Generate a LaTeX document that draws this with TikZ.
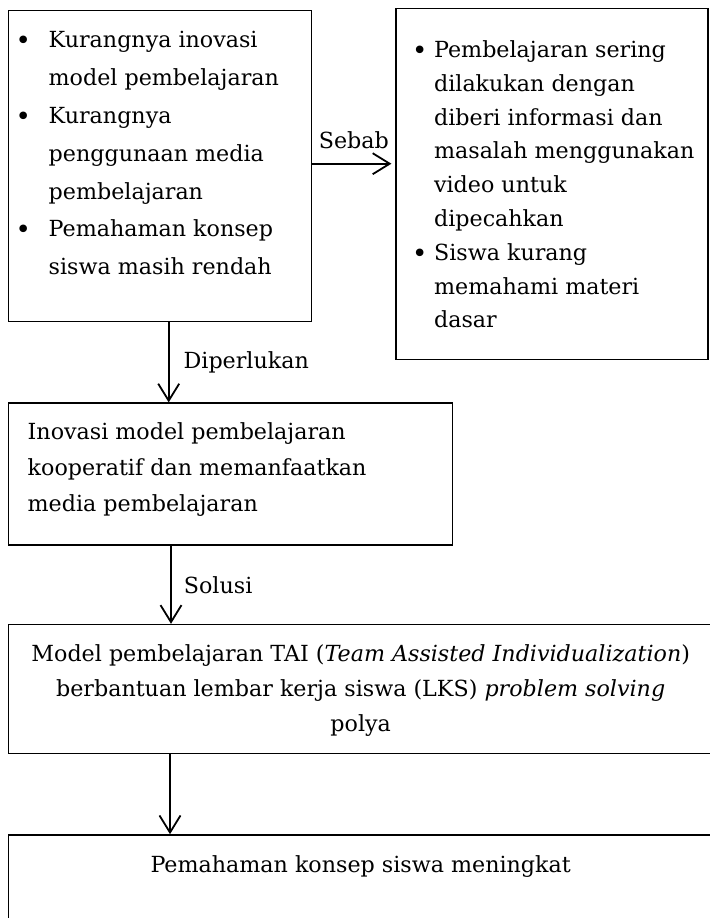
\documentclass[tikz,border=0pt]{standalone}
\usepackage{fontspec}
\setmainfont{DejaVu Serif}
\usetikzlibrary{positioning, arrows.meta}

% fixed-size box text: width, height, top gap, content
\newcommand{\boxtext}[4]{\parbox[c][#2][t]{#1}{\vspace*{#3}#4}}
\newcommand{\bul}{\raisebox{-1pt}{\fontsize{13}{13}\selectfont\textbullet}}

\begin{document}
\begin{tikzpicture}[
    box/.style={draw, line width=0.7pt, inner sep=0pt, anchor=north west},
    arr/.style={-{Straight Barb[length=8.5pt, width=10.5pt, line width=0.9pt]}, line width=0.9pt},
    lbl/.style={font=\fontsize{11.1}{13}\selectfont, inner sep=1pt}
]
    \useasboundingbox (0,0) rectangle (355pt,-459pt);

    \node[box] (kurang) at (4pt,-5pt) {\boxtext{151.5pt}{155.5pt}{5.4pt}{%
        \fontsize{11.1}{18.9}\selectfont
        \begin{tabular}[t]{@{\hspace{3.5pt}}p{16.5pt}@{}l@{}}
            \bul & Kurangnya inovasi\\
                 & model pembelajaran\\
            \bul & Kurangnya\\
                 & penggunaan media\\
                 & pembelajaran\\
            \bul & Pemahaman konsep\\
                 & siswa masih rendah
        \end{tabular}}};
    \node[box, right=41.5pt of kurang.north east, anchor=north west, yshift=1pt] (sebab) {\boxtext{156pt}{175.5pt}{12.6pt}{%
        \fontsize{11.1}{16.9}\selectfont
        \begin{tabular}[t]{@{\hspace{8pt}}p{11pt}@{}l@{}}
            \bul & Pembelajaran sering\\
                 & dilakukan dengan\\
                 & diberi informasi dan\\
                 & masalah menggunakan\\
                 & video untuk\\
                 & dipecahkan\\
            \bul & Siswa kurang\\
                 & memahami materi\\
                 & dasar
        \end{tabular}}};

    \node[box, below=40pt of kurang.south west, anchor=north west] (inovasi) {\boxtext{222pt}{71pt}{5.5pt}{%
        \fontsize{11.1}{18}\selectfont
        \begin{tabular}[t]{@{\hspace{9.5pt}}l@{}}
            Inovasi model pembelajaran\\
            kooperatif dan memanfaatkan\\
            media pembelajaran
        \end{tabular}}};
    \node[box, below=39pt of inovasi.south west, anchor=north west] (model) {\boxtext{352pt}{64.5pt}{6pt}{%
        \fontsize{11.1}{17.5}\selectfont\centering
        \begin{tabular}[t]{@{}c@{}}
            Model pembelajaran TAI (\textit{Team Assisted Individualization})\\
            berbantuan lembar kerja siswa (LKS) \textit{problem solving}\\
            polya
        \end{tabular}\par}};
    \node[box, below=40pt of model.south west, anchor=north west] (hasil) {\boxtext{352pt}{70pt}{6pt}{%
        \fontsize{11.1}{18}\selectfont\centering
        \begin{tabular}[t]{@{}c@{}}
            Pemahaman konsep siswa meningkat
        \end{tabular}\par}};

    % connectors
    \draw[arr, shorten >=2pt] ([yshift=1.25pt]kurang.east) -- ([yshift=1.25pt]kurang.east -| sebab.west)
        node[lbl, midway, above=6pt] {Sebab};
    \draw[arr] ([xshift=4.25pt]kurang.south) -- ([xshift=4.25pt]kurang.south |- inovasi.north)
        node[lbl, midway, right=6pt] {Diperlukan};
    \draw[arr] ([xshift=81.5pt]inovasi.south west) -- ([xshift=81.5pt]inovasi.south west |- model.north)
        node[lbl, midway, right=5pt] {Solusi};
    \draw[arr] ([xshift=81pt]model.south west) -- ([xshift=81pt]model.south west |- hasil.north);
\end{tikzpicture}
\end{document}
